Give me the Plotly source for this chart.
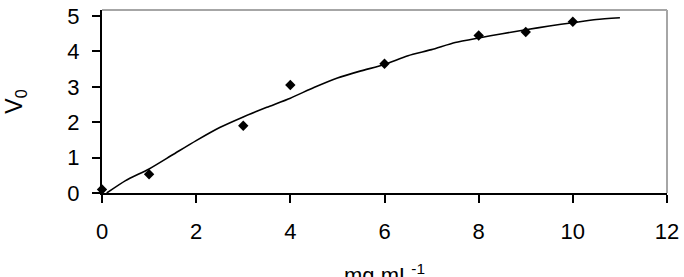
import plotly.graph_objects as go

# measured points
x_pts = [0, 1, 3, 4, 6, 8, 9, 10]
y_pts = [0.1, 0.53, 1.9, 3.05, 3.65, 4.45, 4.55, 4.84]

# fitted curve
x_fit = [0.1, 0.5, 1, 1.5, 2, 2.5, 3, 3.5, 4, 4.5, 5, 5.5, 6, 6.5, 7, 7.5, 8, 8.5, 9, 9.5, 10, 10.5, 11]
y_fit = [0.0, 0.35, 0.68, 1.08, 1.48, 1.85, 2.15, 2.42, 2.68, 2.98, 3.25, 3.45, 3.63, 3.88, 4.05, 4.25, 4.38, 4.50, 4.61, 4.72, 4.81, 4.90, 4.95]

x_ticks = [0, 2, 4, 6, 8, 10, 12]
y_ticks = [0, 1, 2, 3, 4, 5]

FONT = "Liberation Sans, Arial, sans-serif"

fig = go.Figure()
fig.add_trace(go.Scatter(x=x_fit, y=y_fit, mode="lines",
                         line=dict(color="black", width=1.6, shape="spline", smoothing=0.6),
                         showlegend=False, cliponaxis=False))
fig.add_trace(go.Scatter(x=x_pts, y=y_pts, mode="markers",
                         marker=dict(symbol="diamond", size=8, color="black"),
                         showlegend=False, cliponaxis=False))

# gray top and right border of the plot area
fig.add_shape(type="line", xref="paper", yref="paper", x0=0, x1=1, y0=1, y1=1,
              line=dict(color="#a6a6a6", width=2), layer="below")
fig.add_shape(type="line", xref="paper", yref="paper", x0=1, x1=1, y0=0, y1=1,
              line=dict(color="#a6a6a6", width=2), layer="below")

# x-axis title (partly below the bottom edge of the picture, as in the reference)
fig.add_annotation(text="mg mL<sup>-1</sup>", xref="paper", yref="paper", x=0.5, y=0,
                   xanchor="center", yanchor="middle", yshift=-81, showarrow=False,
                   font=dict(family=FONT, size=22, color="black"))

fig.update_layout(
    width=684, height=277,
    margin=dict(l=102, r=17, t=10, b=84),
    paper_bgcolor="white", plot_bgcolor="white",
    font=dict(family=FONT, size=22, color="black"),
    xaxis=dict(range=[0, 12], tickvals=x_ticks, ticktext=[str(v) for v in x_ticks],
               automargin=False,
               showgrid=False, zeroline=False, showline=True, linecolor="black", linewidth=2,
               ticks="outside", ticklen=8, tickwidth=1.5, tickcolor="black",
               ticklabelstandoff=10),
    yaxis=dict(range=[0, 5.17], tickvals=y_ticks, ticktext=[str(v) for v in y_ticks],
               automargin=False,
               showgrid=False, zeroline=False, showline=True, linecolor="black", linewidth=2,
               ticks="outside", ticklen=8, tickwidth=1.5, tickcolor="black",
               ticklabelstandoff=8,
               title=dict(text="V<sub>0</sub>", standoff=38, font=dict(size=23))),
)

fig.write_html("out.html")
